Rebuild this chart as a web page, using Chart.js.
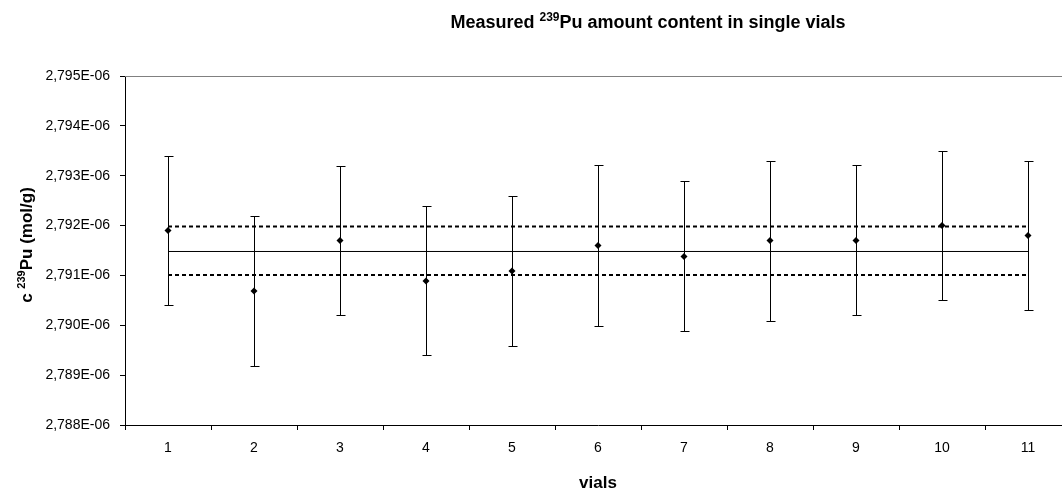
<!DOCTYPE html>
<html>
<head>
<meta charset="utf-8">
<script src="https://cdn.jsdelivr.net/npm/chart.js@4/dist/chart.umd.min.js"></script>
<style>
  html, body { margin: 0; padding: 0; background: #fff; overflow: hidden; }
  #wrap { position: relative; width: 1100px; height: 490px; }
</style>
</head>
<body>
<div id="wrap"><canvas id="c"></canvas></div>
<script>
// ---- data (mol/g) ----
const vials = ['1','2','3','4','5','6','7','8','9','10','11'];
const contentValues = [2.79190e-6, 2.79069e-6, 2.79170e-6, 2.79089e-6, 2.79109e-6, 2.79160e-6, 2.79138e-6, 2.79170e-6, 2.79170e-6, 2.79200e-6, 2.79180e-6];
const upperBounds  = [2.79340e-6, 2.79219e-6, 2.79320e-6, 2.79239e-6, 2.79259e-6, 2.79321e-6, 2.79290e-6, 2.79330e-6, 2.79321e-6, 2.79349e-6, 2.79330e-6];
const lowerBounds  = [2.79040e-6, 2.78919e-6, 2.79021e-6, 2.78940e-6, 2.78959e-6, 2.78998e-6, 2.78989e-6, 2.79009e-6, 2.79020e-6, 2.79050e-6, 2.79031e-6];
const meanValue = 2.79148e-6;
const meanUpper = 2.79198e-6;
const meanLower = 2.79101e-6;
const yTickValues = [2.788e-6, 2.789e-6, 2.790e-6, 2.791e-6, 2.792e-6, 2.793e-6, 2.794e-6, 2.795e-6];

const FONT = '"Liberation Sans", Arial, sans-serif';

function fmt(v) {
  return (v * 1e6).toFixed(3).replace('.', ',') + 'E-06';
}

const firstLast = (y) => [{x: vials[0], y: y}, {x: vials[vials.length - 1], y: y}];

const errorBarPlugin = {
  id: 'errorBars',
  afterDatasetsDraw(chart) {
    const ctx = chart.ctx;
    const xs = chart.scales.x, ys = chart.scales.y;
    ctx.save();
    ctx.strokeStyle = '#000';
    ctx.lineWidth = 1;
    vials.forEach((v, i) => {
      const x = Math.round(xs.getPixelForValue(i)) + 0.5;
      const yt = Math.round(ys.getPixelForValue(upperBounds[i])) + 0.5;
      const yb = Math.round(ys.getPixelForValue(lowerBounds[i])) + 0.5;
      ctx.beginPath();
      ctx.moveTo(x, yt); ctx.lineTo(x, yb);
      ctx.moveTo(x - 4, yt); ctx.lineTo(x + 5, yt);
      ctx.moveTo(x - 4, yb); ctx.lineTo(x + 5, yb);
      ctx.stroke();
    });
    ctx.restore();
  }
};

const framePlugin = {
  id: 'frame',
  beforeDatasetsDraw(chart) {
    const {ctx, chartArea} = chart;
    ctx.save();
    ctx.strokeStyle = '#808080';
    ctx.lineWidth = 1;
    ctx.beginPath();
    const y = Math.round(chartArea.top) + 0.5;
    ctx.moveTo(chartArea.left, y); ctx.lineTo(chartArea.right, y);
    ctx.stroke();
    ctx.restore();
  },
  afterDraw(chart) {
    const ctx = chart.ctx;
    ctx.save();
    ctx.fillStyle = '#000';
    ctx.textBaseline = 'alphabetic';
    // chart title with superscript
    const tbig = 'bold 18px ' + FONT, tsmall = 'bold 12px ' + FONT;
    const parts = [['Measured ', tbig, 0], ['239', tsmall, -7], ['Pu amount content in single vials', tbig, 0]];
    let total = 0;
    parts.forEach(p => { ctx.font = p[1]; total += ctx.measureText(p[0]).width; });
    let x = 648 - total / 2;
    parts.forEach(p => { ctx.font = p[1]; ctx.fillText(p[0], x, 28 + p[2]); x += ctx.measureText(p[0]).width; });

    // y axis title, rotated
    const big = 'bold 17px ' + FONT, small = 'bold 11px ' + FONT;
    ctx.translate(32, 245);
    ctx.rotate(-Math.PI / 2);
    const yparts = [['c ', big, 0], ['239', small, -7], ['Pu (mol/g)', big, 0]];
    total = 0;
    yparts.forEach(p => { ctx.font = p[1]; total += ctx.measureText(p[0]).width; });
    x = -total / 2;
    yparts.forEach(p => { ctx.font = p[1]; ctx.fillText(p[0], x, 0 + p[2]); x += ctx.measureText(p[0]).width; });
    ctx.restore();

    // x axis title
    ctx.save();
    ctx.font = 'bold 17px ' + FONT;
    ctx.fillStyle = '#000';
    ctx.textAlign = 'center';
    ctx.textBaseline = 'alphabetic';
    ctx.fillText('vials', 598, 488);
    ctx.restore();
  }
};

new Chart(document.getElementById('c'), {
  type: 'line',
  data: {
    labels: vials,
    datasets: [
      {
        label: 'content',
        data: contentValues,
        showLine: false,
        pointStyle: 'rectRot',
        pointRadius: 3.5,
        pointBackgroundColor: '#000',
        pointBorderColor: '#000',
        pointBorderWidth: 0,
        order: 0
      },
      {
        label: 'mean',
        data: firstLast(meanValue),
        borderColor: '#000',
        borderWidth: 1,
        pointRadius: 0,
        fill: false,
        order: 2
      },
      {
        label: 'upper',
        data: firstLast(meanUpper),
        borderColor: '#000',
        borderWidth: 2,
        borderDash: [4, 3],
        pointRadius: 0,
        fill: false,
        order: 2
      },
      {
        label: 'lower',
        data: firstLast(meanLower),
        borderColor: '#000',
        borderWidth: 2,
        borderDash: [4, 3],
        pointRadius: 0,
        fill: false,
        order: 2
      }
    ]
  },
  options: {
    responsive: true,
    maintainAspectRatio: false,
    animation: false,
    events: [],
    layout: { padding: { top: 76, right: 29, left: 0, bottom: 0 } },
    plugins: { legend: { display: false }, title: { display: false }, tooltip: { enabled: false } },
    scales: {
      x: {
        type: 'category',
        offset: true,
        grid: { display: true, drawOnChartArea: false, drawTicks: true, tickLength: 5, offset: true, color: '#000' },
        border: { display: true, color: '#000', width: 1 },
        ticks: { color: '#000', font: { family: FONT, size: 14 }, padding: 10, maxRotation: 0 },
        afterFit(scale) { scale.height = 65; }
      },
      y: {
        min: 2.788e-6,
        max: 2.795e-6,
        grid: { display: true, drawOnChartArea: false, drawTicks: true, tickLength: 5, color: '#000' },
        border: { display: true, color: '#000', width: 1 },
        ticks: { color: '#000', font: { family: FONT, size: 14 }, padding: 10, callback: (v) => fmt(v) },
        afterBuildTicks(scale) { scale.ticks = yTickValues.map(v => ({ value: v })); },
        afterFit(scale) { scale.width = 125; }
      }
    }
  },
  plugins: [errorBarPlugin, framePlugin]
});
</script>
</body>
</html>
